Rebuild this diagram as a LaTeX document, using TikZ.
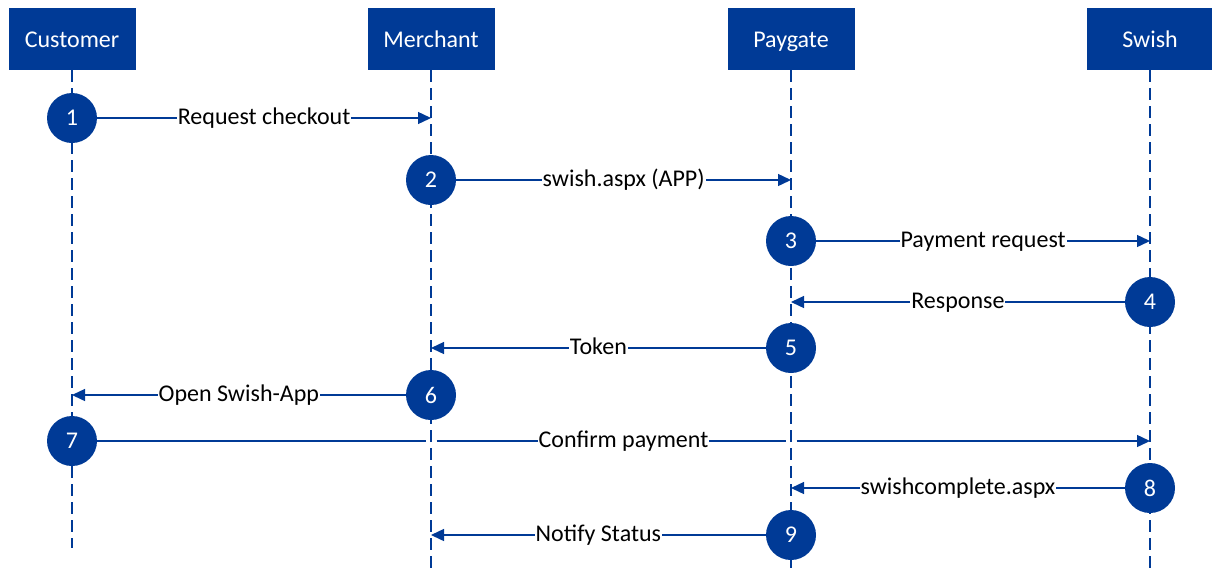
\documentclass[tikz,border=0pt]{standalone}
\usepackage{fontspec}
\setmainfont{Carlito}
\usetikzlibrary{arrows.meta}
\definecolor{sblue}{RGB}{0,58,150}
\begin{document}
\begin{tikzpicture}[x=1pt,y=-1pt,
  hdr/.style={draw=none,fill=sblue,text=white,minimum width=127pt,minimum height=62pt,inner sep=0pt,text height=16pt,text depth=0pt,font=\fontsize{24}{28}\selectfont},
  stepno/.style={circle,fill=sblue,text=white,minimum size=50pt,inner sep=0pt,font=\fontsize{24}{28}\selectfont},
  life/.style={draw=sblue,line width=1.4pt,dash pattern=on 12pt off 6pt},
  msg/.style={draw=sblue,line width=1.4pt,-{Triangle[length=13pt,width=12pt]}},
  msgline/.style={draw=sblue,line width=1.4pt},
  lbl/.style={fill=white,inner sep=1pt,text height=16pt,text depth=4pt,text=black,font=\fontsize{24}{28}\selectfont}]
\useasboundingbox (0,0) rectangle (1212,573);
% headers
\node[hdr] (cust) at (72,39) {Customer};
\node[hdr] (merc) at (431,39) {Merchant};
\node[hdr] (payg) at (791,39) {Paygate};
\node[hdr] (swsh) at (1150,39) {Swish};
% lifeline ends
\coordinate (custE) at (72,548);
\coordinate (mercE) at (431,573);
\coordinate (paygE) at (791,573);
\coordinate (swshE) at (1150,573);
\draw[life] (cust.south) -- (custE);
\draw[life] (merc.south) -- (mercE);
\draw[life] (payg.south) -- (paygE);
\draw[life] (swsh.south) -- (swshE);
% steps
\node[stepno] (s1) at (72,118) {1};
\node[stepno] (s2) at (431,180) {2};
\node[stepno] (s3) at (791,241) {3};
\node[stepno] (s4) at (1150,302) {4};
\node[stepno] (s5) at (791,348) {5};
\node[stepno] (s6) at (431,395) {6};
\node[stepno] (s7) at (72,441) {7};
\node[stepno] (s8) at (1150,488) {8};
\node[stepno] (s9) at (791,535) {9};
% targets
\coordinate (t1) at (431,118);
\coordinate (t2) at (791,180);
\coordinate (t3) at (1150,241);
\coordinate (t4) at (791,302);
\coordinate (t5) at (431,348);
\coordinate (t6) at (72,395);
\coordinate (t8) at (791,488);
\coordinate (t9) at (431,535);
\draw[msg] (s1.east) -- node[lbl] {Request checkout} (t1);
\draw[msg] (s2.east) -- node[lbl] {swish.aspx (APP)} (t2);
\draw[msg] (s3.east) -- node[lbl] {Payment request} (t3);
\draw[msg] (s4.west) -- node[lbl] {Response} (t4);
\draw[msg] (s5.west) -- node[lbl] {Token} (t5);
\draw[msg] (s6.west) -- node[lbl] {Open Swish-App} (t6);
\draw[msg] (s8.west) -- node[lbl] {swishcomplete.aspx} (t8);
\draw[msg] (s9.west) -- node[lbl] {Notify Status} (t9);
% step 7 with line jumps
\coordinate (g1a) at (425.5,441);
\coordinate (g1b) at (436.5,441);
\coordinate (g2a) at (785.5,441);
\coordinate (g2b) at (796.5,441);
\coordinate (t7) at (1150,441);
\draw[msgline] (s7.east) -- (g1a);
\draw[msgline] (g1b) -- (g2a);
\draw[msg] (g2b) -- (t7);
\node[lbl] (l7) at (623.5,441) {Confirm payment};
\end{tikzpicture}
\end{document}
